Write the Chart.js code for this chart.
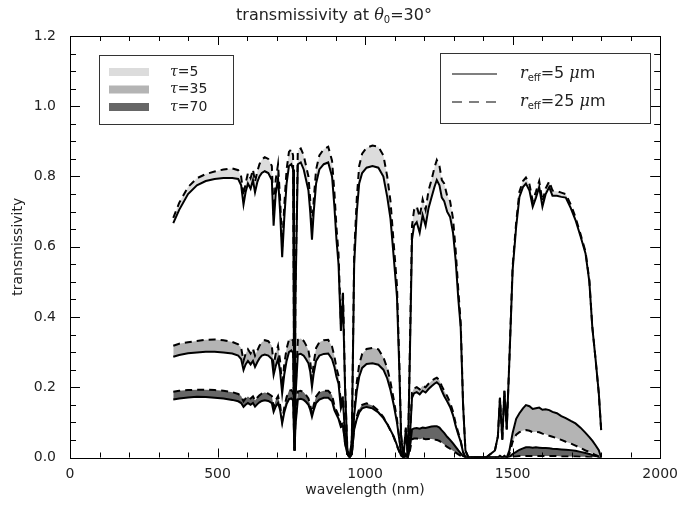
<!DOCTYPE html>
<html>
<head>
<meta charset="utf-8">
<script src="https://cdn.jsdelivr.net/npm/chart.js@4/dist/chart.umd.min.js"></script>
<style>
  html, body { margin: 0; padding: 0; background: #fff; }
  #chart { display: block; }
</style>
</head>
<body>
<canvas id="chart" width="686" height="508"></canvas>
<script>
// wavelength grid (nm)
const wavelength = [
  350, 370, 400, 430, 460, 490, 520, 550, 570, 580,
  588, 595, 603, 612, 620, 627, 635, 642, 650, 660,
  672, 684, 690, 697, 705, 712, 719, 726, 734, 742,
  750, 756, 759, 761, 764, 772, 782, 792, 800, 808,
  814, 820, 826, 834, 845, 860, 875, 888, 896, 903,
  910, 918, 925, 932, 940, 948, 955, 963, 972, 980,
  990, 1005, 1025, 1045, 1062, 1075, 1086, 1097, 1108, 1116,
  1122, 1130, 1138, 1145, 1152, 1159, 1166, 1175, 1185, 1195,
  1205, 1215, 1225, 1235, 1243, 1252, 1260, 1268, 1278, 1288,
  1298, 1307, 1316, 1324, 1332, 1340, 1350, 1380, 1410, 1425,
  1440, 1450, 1457, 1465, 1472, 1480, 1489, 1500, 1512, 1523,
  1535, 1545, 1557, 1568, 1579, 1590, 1601, 1612, 1624, 1635,
  1650, 1665, 1680, 1697, 1713, 1730, 1747, 1760, 1770, 1781,
  1792, 1800
];

// tau = 5
const tau5_r5 = [
  .667, .705, .750, .775, .787, .793, .796, .796, .793, .775,
  .720, .755, .780, .765, .790, .755, .785, .800, .810, .815,
  .810, .790, .660, .750, .795, .700, .570, .680, .780, .830,
  .835, .820, .300, .020, .450, .835, .840, .820, .790, .760,
  .700, .620, .700, .780, .820, .835, .840, .800, .714, .620,
  .550, .360, .450, .200, .020, .000, .050, .550, .700, .780,
  .810, .825, .830, .825, .800, .742, .680, .570, .458, .250,
  .060, .000, .080, .000, .300, .620, .660, .670, .640, .690,
  .660, .710, .740, .770, .790, .775, .740, .730, .700, .685,
  .640, .560, .450, .370, .150, .020, .000, .000, .000, .010,
  .020, .060, .170, .050, .190, .080, .277, .534, .657, .742,
  .770, .780, .760, .714, .740, .770, .714, .750, .770, .745,
  .745, .742, .740, .710, .676, .630, .581, .500, .370, .280,
  .183, .078
];
const tau5_r25 = [
  .682, .725, .770, .795, .807, .814, .820, .823, .818, .800,
  .745, .780, .810, .795, .820, .785, .815, .835, .848, .855,
  .850, .830, .690, .790, .835, .735, .600, .715, .820, .870,
  .878, .860, .310, .020, .470, .875, .880, .860, .830, .800,
  .735, .650, .735, .820, .860, .878, .885, .845, .755, .655,
  .580, .380, .475, .210, .020, .000, .050, .580, .740, .830,
  .865, .882, .888, .885, .860, .800, .730, .610, .490, .270,
  .065, .000, .085, .000, .320, .660, .705, .715, .685, .735,
  .705, .760, .790, .825, .847, .830, .790, .780, .745, .730,
  .680, .590, .475, .385, .155, .020, .000, .000, .000, .010,
  .020, .060, .170, .050, .190, .080, .280, .545, .670, .757,
  .787, .797, .778, .730, .757, .787, .730, .766, .786, .760,
  .758, .754, .750, .720, .684, .636, .586, .504, .373, .280,
  .183, .078
];

// tau = 35
const tau35_r5 = [
  .287, .292, .297, .299, .301, .301, .299, .296, .290, .280,
  .249, .265, .275, .265, .275, .258, .272, .282, .290, .293,
  .290, .280, .235, .260, .280, .245, .183, .235, .275, .300,
  .305, .298, .120, .020, .170, .293, .295, .290, .280, .268,
  .245, .201, .240, .275, .290, .295, .296, .280, .258, .230,
  .210, .140, .160, .070, .010, .000, .010, .120, .190, .230,
  .255, .266, .268, .264, .250, .225, .192, .150, .100, .050,
  .015, .000, .010, .000, .060, .170, .183, .186, .180, .190,
  .185, .195, .203, .210, .214, .207, .190, .175, .160, .144,
  .120, .090, .065, .045, .015, .000, .000, .000, .000, .000,
  .000, .000, .005, .000, .005, .000, .020, .070, .110, .126,
  .140, .149, .146, .138, .140, .142, .136, .137, .135, .130,
  .126, .118, .112, .104, .097, .085, .070, .058, .048, .035,
  .021, .000
];
const tau35_r25 = [
  .318, .324, .328, .332, .335, .336, .334, .329, .322, .312,
  .275, .295, .308, .296, .310, .290, .305, .318, .328, .334,
  .331, .318, .262, .295, .318, .275, .200, .265, .310, .335,
  .339, .332, .130, .020, .185, .335, .339, .332, .320, .305,
  .276, .222, .270, .312, .328, .334, .335, .316, .288, .255,
  .232, .152, .175, .075, .010, .000, .010, .130, .215, .265,
  .295, .309, .312, .308, .285, .255, .215, .165, .110, .055,
  .016, .000, .010, .000, .065, .185, .197, .200, .194, .204,
  .200, .210, .218, .224, .227, .220, .203, .190, .175, .157,
  .130, .097, .070, .048, .016, .000, .000, .000, .000, .000,
  .000, .000, .003, .000, .003, .000, .010, .045, .065, .072,
  .077, .078, .076, .072, .073, .072, .068, .066, .062, .059,
  .055, .050, .045, .040, .034, .027, .020, .016, .012, .007,
  .003, .000
];

// tau = 70
const tau70_r5 = [
  .165, .168, .171, .173, .172, .170, .168, .164, .160, .155,
  .144, .150, .155, .150, .155, .145, .152, .157, .161, .163,
  .161, .155, .130, .145, .155, .135, .097, .128, .152, .166,
  .168, .163, .070, .020, .090, .165, .167, .164, .158, .150,
  .136, .116, .135, .155, .165, .170, .170, .160, .135, .122,
  .110, .087, .090, .040, .010, .000, .010, .080, .110, .128,
  .140, .144, .140, .128, .112, .095, .078, .060, .035, .018,
  .005, .000, .003, .000, .030, .080, .083, .084, .082, .085,
  .084, .086, .088, .089, .089, .085, .077, .070, .059, .050,
  .040, .030, .020, .012, .004, .000, .000, .000, .000, .000,
  .000, .000, .000, .000, .000, .000, .002, .010, .016, .022,
  .026, .029, .029, .028, .029, .028, .027, .027, .026, .025,
  .024, .023, .022, .021, .019, .016, .013, .010, .007, .004,
  .002, .000
];
const tau70_r25 = [
  .187, .190, .192, .193, .193, .192, .190, .186, .181, .175,
  .160, .168, .174, .168, .174, .162, .171, .177, .182, .185,
  .182, .175, .145, .163, .175, .150, .105, .142, .172, .190,
  .192, .185, .075, .020, .100, .188, .190, .186, .178, .168,
  .150, .126, .150, .174, .186, .190, .190, .178, .148, .133,
  .120, .093, .097, .042, .010, .000, .010, .085, .118, .138,
  .150, .154, .148, .134, .115, .096, .077, .058, .032, .016,
  .004, .000, .002, .000, .020, .052, .054, .054, .052, .054,
  .052, .053, .053, .051, .050, .047, .042, .037, .030, .025,
  .019, .014, .009, .005, .002, .000, .000, .000, .000, .000,
  .000, .000, .000, .000, .000, .000, .000, .002, .003, .004,
  .004, .004, .004, .004, .004, .004, .004, .004, .004, .004,
  .004, .003, .003, .003, .003, .002, .002, .001, .001, .000,
  .000, .000
];

const tauLabels = ["5", "35", "70"];
const tauColors = ["#dcdcdc", "#b4b4b4", "#666666"];
const reffLabels = ["5", "25"];

const ink = "#222";
const sans = "'DejaVu Sans', sans-serif";
const serif = "'DejaVu Serif', serif";

function pts(vals) {
  return vals.map((v, i) => ({ x: wavelength[i], y: v }));
}

function solid(vals) {
  return {
    data: pts(vals),
    borderColor: "#000",
    borderWidth: 2,
    pointRadius: 0,
    tension: 0,
    fill: false
  };
}

function dashed(vals, color) {
  return {
    data: pts(vals),
    borderColor: "#000",
    borderWidth: 2,
    borderDash: [7, 5],
    pointRadius: 0,
    tension: 0,
    fill: "-1",
    backgroundColor: color
  };
}

// draw text made of parts (italic / subscript)
function richText(ctx, parts, x, y, size, align) {
  let widths = parts.map(p => {
    ctx.font = fontFor(p, size);
    return ctx.measureText(p.t).width;
  });
  let total = widths.reduce((a, b) => a + b, 0);
  let cx = align === "center" ? x - total / 2 : x;
  parts.forEach((p, i) => {
    ctx.font = fontFor(p, size);
    ctx.fillText(p.t, cx, p.sub ? y + size * 0.3 : y);
    cx += widths[i];
  });
}
function fontFor(p, size) {
  let s = p.sub ? Math.round(size * 0.62) : size;
  return (p.italic ? "italic " : "") + s + "px " + (p.italic ? serif : sans);
}

const decorations = {
  id: "decorations",
  afterDraw(chart) {
    const { ctx, chartArea: a, scales: { x, y } } = chart;
    ctx.save();
    ctx.strokeStyle = "#000";
    ctx.lineWidth = 1;
    ctx.strokeRect(Math.round(a.left) + 0.5, Math.round(a.top) + 0.5,
      Math.round(a.right - a.left), Math.round(a.bottom - a.top));

    // inward ticks
    ctx.beginPath();
    for (let v = 0; v <= 2000; v += 100) {
      const px = Math.round(x.getPixelForValue(v)) + 0.5;
      const len = v % 500 === 0 ? 9 : 5;
      ctx.moveTo(px, a.bottom); ctx.lineTo(px, a.bottom - len);
      ctx.moveTo(px, a.top); ctx.lineTo(px, a.top + len);
    }
    for (let i = 0; i <= 24; i++) {
      const py = Math.round(y.getPixelForValue(i * 0.05)) + 0.5;
      const len = i % 4 === 0 ? 10 : 6;
      ctx.moveTo(a.left, py); ctx.lineTo(a.left + len, py);
      ctx.moveTo(a.right, py); ctx.lineTo(a.right - len, py);
    }
    ctx.stroke();

    // title
    ctx.fillStyle = ink;
    ctx.textBaseline = "middle";
    richText(ctx, [
      { t: "transmissivity at " },
      { t: "θ", italic: true },
      { t: "0", sub: true },
      { t: "=30°" }
    ], 334, 16, 16, "center");

    // tau legend
    ctx.strokeStyle = "#333";
    ctx.strokeRect(99.5, 55.5, 134, 69);
    tauLabels.forEach((t, i) => {
      const cy = 72 + i * 17.5;
      ctx.fillStyle = tauColors[i];
      ctx.fillRect(109, cy - 4, 40, 8);
      ctx.fillStyle = ink;
      richText(ctx, [{ t: "τ", italic: true }, { t: "=" + t }], 170, cy, 14, "left");
    });

    // r_eff legend
    ctx.strokeRect(440.5, 53.5, 210, 70);
    reffLabels.forEach((r, i) => {
      const cy = 74 + i * 28;
      ctx.strokeStyle = "#000";
      ctx.lineWidth = 1.2;
      ctx.setLineDash(i === 0 ? [] : [10, 7]);
      ctx.beginPath();
      ctx.moveTo(452, cy); ctx.lineTo(497, cy);
      ctx.stroke();
      ctx.setLineDash([]);
      ctx.fillStyle = ink;
      richText(ctx, [
        { t: "r", italic: true },
        { t: "eff", sub: true },
        { t: "=" + r + " " },
        { t: "μ", italic: true },
        { t: "m" }
      ], 520, cy, 16, "left");
    });
    ctx.restore();
  }
};

new Chart(document.getElementById("chart"), {
  type: "line",
  data: {
    datasets: [
      solid(tau5_r5), dashed(tau5_r25, tauColors[0]),
      solid(tau35_r5), dashed(tau35_r25, tauColors[1]),
      solid(tau70_r5), dashed(tau70_r25, tauColors[2])
    ]
  },
  options: {
    responsive: false,
    animation: false,
    devicePixelRatio: 1,
    layout: { padding: { top: 36, right: 20.5, left: 0, bottom: 0 } },
    plugins: { legend: { display: false }, title: { display: false }, tooltip: { enabled: false } },
    scales: {
      x: {
        type: "linear", min: 0, max: 2000,
        grid: { display: false, drawTicks: false },
        border: { display: false },
        ticks: { stepSize: 500, padding: 8, color: ink, font: { family: sans, size: 14 }, maxRotation: 0, callback: v => String(v) },
        title: { display: true, text: "wavelength (nm)", color: ink, font: { family: sans, size: 14 }, padding: { top: 0, bottom: 9 } },
        afterFit(s) { s.height = 50.5; }
      },
      y: {
        min: 0, max: 1.2,
        grid: { display: false, drawTicks: false },
        border: { display: false },
        ticks: { stepSize: 0.2, padding: 14, color: ink, font: { family: sans, size: 14 }, callback: v => v.toFixed(1) },
        title: { display: true, text: "transmissivity", color: ink, font: { family: sans, size: 14 }, padding: { top: 10, bottom: 0 } },
        afterFit(s) { s.width = 70; }
      }
    }
  },
  plugins: [decorations]
});
</script>
</body>
</html>
